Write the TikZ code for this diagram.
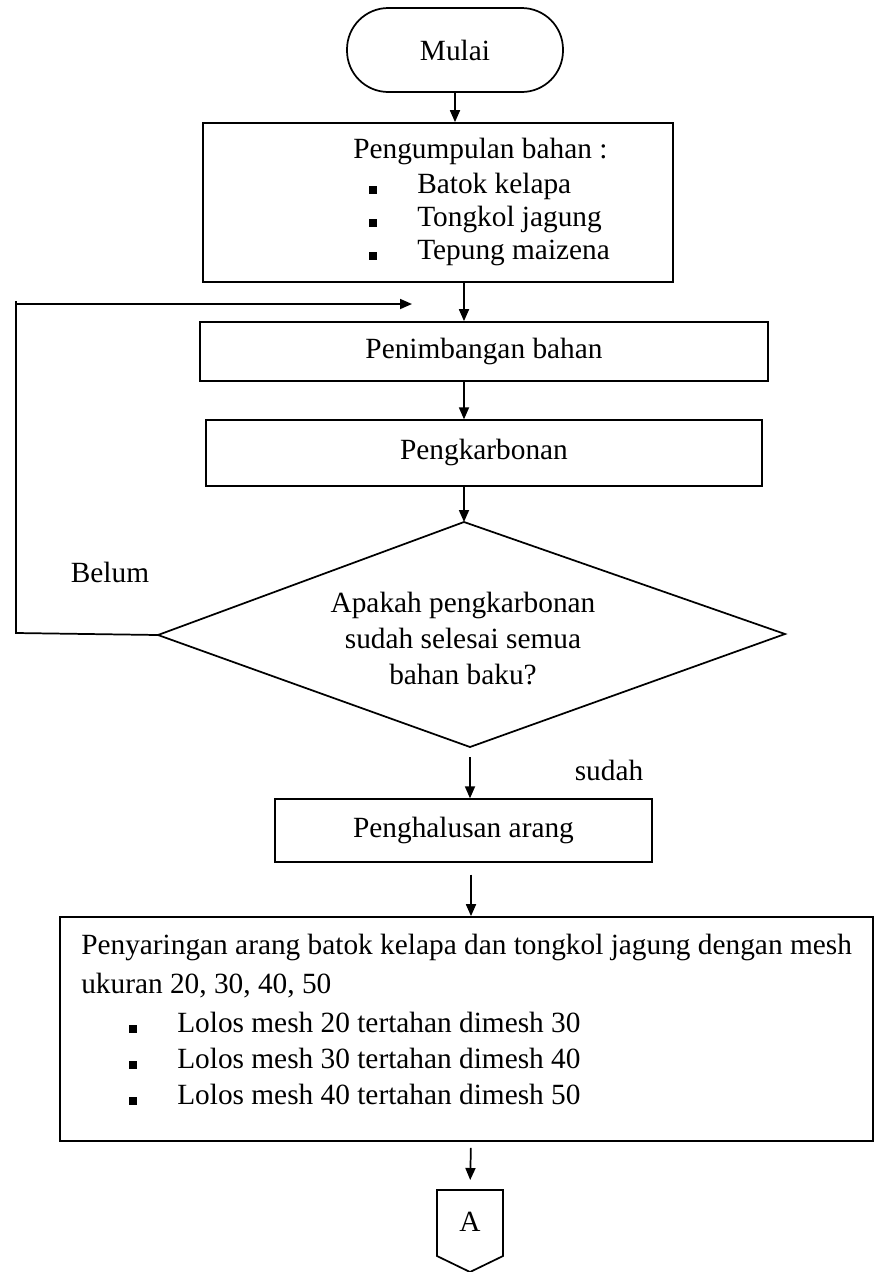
\documentclass[tikz,border=0pt]{standalone}
\usepackage{fontspec}
\setmainfont{Liberation Serif}
\usetikzlibrary{arrows.meta,calc}
\begin{document}
\begin{tikzpicture}[x=0.75pt,y=-0.75pt,
  box/.style={draw, line width=1.3pt, inner sep=0pt},
  thinbox/.style={draw, line width=1pt, inner sep=0pt},
  arr/.style={line width=1.3pt, -{Triangle[length=9pt,width=7.5pt]}},
  txt/.style={font=\fontsize{22}{27}\selectfont, inner sep=0pt},
  bul/.style={fill, minimum size=5.5pt, inner sep=0pt},
  line/.style={line width=1.3pt}]
\useasboundingbox (0,0) rectangle (875,1272);

% start
\node[box, rounded corners=31pt, minimum width=162pt, minimum height=63pt] (start) at (455,50) {};
\node[txt] (starttxt) at (455,50) {Mulai};

% collecting
\node[box, minimum width=352.5pt, minimum height=119.25pt] (collect) at (438,202.5) {};
\node[txt, anchor=mid west] (c0) at (353,155) {Pengumpulan bahan :};
\node[bul] (b1) at (373,190) {};
\node[bul] (b2) at (373,223) {};
\node[bul] (b3) at (373,256) {};
\node[txt, anchor=mid west] (c1) at (417,190) {Batok kelapa};
\node[txt, anchor=mid west] (c2) at (417,223) {Tongkol jagung};
\node[txt, anchor=mid west] (c3) at (417,256) {Tepung maizena};

% weighing
\node[box, minimum width=426pt, minimum height=44.25pt] (weigh) at (484,351.5) {};
\node[txt] (weightxt) at (484,351) {Penimbangan bahan};

% carbonization
\node[thinbox, minimum width=417pt, minimum height=49.5pt] (carb) at (484,453) {};
\node[txt] (carbtxt) at (484,452) {Pengkarbonan};

% decision
\coordinate (dtop) at (464,522);
\coordinate (dright) at (785,634);
\coordinate (dbot) at (470,747);
\coordinate (dleft) at (158,635);
\draw[line] (dtop) -- (dright) -- (dbot) -- (dleft) -- cycle;
\node[txt, align=center] (dectxt) at (463,639) {Apakah pengkarbonan\\sudah selesai semua\\bahan baku?};

\node[txt] (belum) at (110,572) {Belum};
\node[txt] (sudah) at (609,770) {sudah};

% smoothing
\node[thinbox, minimum width=282.75pt, minimum height=47.25pt] (smooth) at (463.5,830.5) {};
\node[txt] (smoothtxt) at (463.5,830) {Penghalusan arang};

% sieving
\node[box, minimum width=609.75pt, minimum height=168pt] (sieve) at (466.5,1029) {};
\node[txt, anchor=mid west] (s0) at (81,951) {Penyaringan arang batok kelapa dan tongkol jagung dengan mesh};
\node[txt, anchor=mid west] (s1) at (81,990) {ukuran 20, 30, 40, 50};
\node[bul] (sb1) at (133,1029) {};
\node[bul] (sb2) at (133,1065) {};
\node[bul] (sb3) at (133,1101) {};
\node[txt, anchor=mid west] (s2) at (177,1029) {Lolos mesh 20 tertahan dimesh 30};
\node[txt, anchor=mid west] (s3) at (177,1065) {Lolos mesh 30 tertahan dimesh 40};
\node[txt, anchor=mid west] (s4) at (177,1101) {Lolos mesh 40 tertahan dimesh 50};

% off-page connector A
\coordinate (atop) at (470,1190);
\draw[line] (437,1190) -- (503,1190) -- (503,1256) -- (470,1272) -- (437,1256) -- cycle;
\node[txt] (atxt) at (470,1222) {A};

% axis helpers
\coordinate (ax1) at (464,0);
\coordinate (ax2) at (471,0);

% connectors
\draw[arr] (start.south) -- (start.south |- collect.north);
\draw[arr] (collect.south -| ax1) -- (weigh.north -| ax1);
\draw[arr] (weigh.south -| ax1) -- (carb.north -| ax1);
\draw[arr] (carb.south -| ax1) -- (dtop);
\draw[arr, shorten <=7.5pt] (dbot) -- (smooth.north -| dbot);
\draw[arr, shorten <=9pt] (smooth.south -| ax2) -- (sieve.north -| ax2);
\draw[arr, shorten <=4.5pt, shorten >=7.5pt] (sieve.south -| ax2) -- (atop);

% loop back
\coordinate (lbl) at (16,633);
\coordinate (ltl) at (16,304);
\coordinate (lend) at (412,304);
\draw[line] (dleft) -- (lbl) -- (16,301);
\draw[arr] (ltl) -- (lend);
\end{tikzpicture}
\end{document}
